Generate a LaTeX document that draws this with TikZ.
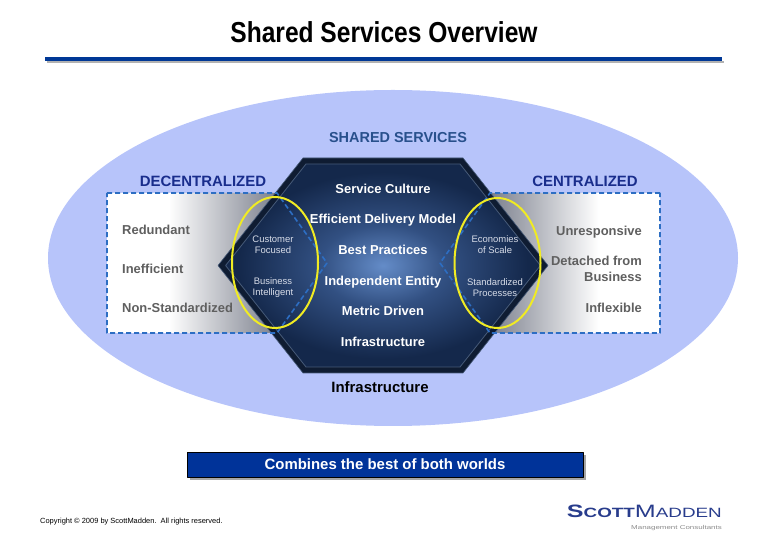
\documentclass[tikz,border=0pt]{standalone}
\usepackage{fontspec}
\setmainfont{Liberation Sans}
\newfontfamily\titlefont[FakeStretch=0.85]{Liberation Sans}
\newfontfamily\logofont[FakeStretch=1.4]{Liberation Sans}
\usetikzlibrary{shadows}
\definecolor{ovalblue}{RGB}{183,196,250}
\definecolor{ruleblue}{RGB}{0,56,150}
\definecolor{sharedblue}{RGB}{40,80,140}
\definecolor{headblue}{RGB}{25,45,140}
\definecolor{dashblue}{RGB}{45,110,195}
\definecolor{ringyellow}{RGB}{240,235,35}
\definecolor{wordgray}{RGB}{95,95,95}
\definecolor{notegray}{RGB}{215,220,232}
\definecolor{fadegray}{RGB}{105,110,125}
\definecolor{hexlight}{RGB}{100,140,200}
\definecolor{hexmid}{RGB}{50,80,130}
\definecolor{hexdark}{RGB}{20,40,75}
\definecolor{hexrim}{RGB}{15,28,50}
\definecolor{hexline}{RGB}{70,90,120}
\definecolor{bannerblue}{RGB}{0,51,153}
\definecolor{logoblue}{RGB}{40,60,140}
\pgfdeclarehorizontalshading{leftfade}{100bp}{color(0bp)=(white); color(39bp)=(white); color(67bp)=(fadegray); color(100bp)=(fadegray)}
\pgfdeclarehorizontalshading{rightfade}{100bp}{color(0bp)=(fadegray); color(33bp)=(fadegray); color(61bp)=(white); color(100bp)=(white)}
\pgfdeclareradialshading{hexglow}{\pgfpoint{0bp}{0bp}}{color(0bp)=(hexlight); color(10bp)=(hexmid); color(23bp)=(hexdark); color(50bp)=(hexdark)}
\begin{document}
\begin{tikzpicture}[>=latex,line join=bevel,
  hexitem/.style={text=white,font=\bfseries\fontsize{13}{15}\selectfont,inner sep=0pt,anchor=base},
  sidehead/.style={text=headblue,font=\bfseries\fontsize{15}{17}\selectfont,inner sep=0pt,anchor=base},
  fault/.style={text=wordgray,font=\bfseries\fontsize{13}{16}\selectfont,inner sep=0pt},
  trait/.style={text=notegray,font=\fontsize{9.5}{11}\selectfont,align=center,inner sep=0pt},
  sidebox/.style={draw=dashblue,line width=1.6bp,dash pattern=on 5bp off 3bp},
  ring/.style={draw=ringyellow,line width=2bp},
  banner/.style={fill=bannerblue,draw=black,line width=0.6bp,text=white,font=\bfseries\fontsize{15}{17}\selectfont,minimum width=396bp,minimum height=25bp,inner sep=0pt,drop shadow={shadow xshift=3bp,shadow yshift=-3bp,fill=black!35,opacity=1}},
]
\useasboundingbox (0bp,0bp) rectangle (768bp,542bp);
%%
\node (node_title) at (384bp,499bp) [anchor=base,inner sep=0pt,font=\titlefont\bfseries\fontsize{29}{32}\selectfont] {Shared Services Overview};
  \draw [line width=2bp,draw=black!30] (47bp,480bp) -- (724bp,480bp);
  \draw [line width=4.5bp,draw=ruleblue] (45bp,483bp) -- (722bp,483bp);
%
  \fill [ovalblue] (393bp,284bp) ellipse (345bp and 168bp);
  \shade [shading=leftfade] (107bp,349bp) -- (277bp,349bp) -- (327bp,279bp) -- (277bp,209bp) -- (107bp,209bp) -- cycle;
  \shade [shading=rightfade] (660bp,349bp) -- (490bp,349bp) -- (440bp,279bp) -- (490bp,209bp) -- (660bp,209bp) -- cycle;
%
  \filldraw [fill=hexrim,draw=hexline,line width=0.6bp] (303bp,384bp) -- (463bp,384bp) -- (548bp,276.5bp) -- (463bp,169bp) -- (303bp,169bp) -- (218bp,276.5bp) -- cycle;
  \shade [shading=hexglow,draw=hexline,line width=0.8bp] (306bp,378bp) -- (460bp,378bp) -- (540.4bp,276.5bp) -- (460bp,175bp) -- (306bp,175bp) -- (225.6bp,276.5bp) -- cycle;
%
  \draw [sidebox] (107bp,349bp) -- (277bp,349bp) -- (327bp,279bp) -- (277bp,209bp) -- (107bp,209bp) -- cycle;
  \draw [sidebox] (660bp,349bp) -- (490bp,349bp) -- (440bp,279bp) -- (490bp,209bp) -- (660bp,209bp) -- cycle;
  \draw [ring] (275bp,279.5bp) ellipse (43bp and 65.5bp);
  \draw [ring] (497.5bp,279bp) ellipse (43bp and 65bp);
%
\node (node_shared) at (398bp,399.8bp) [anchor=base,inner sep=0pt,text=sharedblue,font=\bfseries\fontsize{14.5}{17}\selectfont] {SHARED SERVICES};
  \node (node_decentral) at (203bp,355.6bp) [sidehead] {DECENTRALIZED};
  \node (node_central) at (585bp,355.6bp) [sidehead] {CENTRALIZED};
%
  \node (node_culture) at (383bp,348.4bp) [hexitem] {Service Culture};
  \node (node_delivery) at (383bp,318.4bp) [hexitem] {Efficient Delivery Model};
  \node (node_practices) at (383bp,287.4bp) [hexitem] {Best Practices};
  \node (node_entity) at (383bp,256.4bp) [hexitem] {Independent Entity};
  \node (node_metric) at (383bp,226.4bp) [hexitem] {Metric Driven};
  \node (node_infra) at (383bp,195.4bp) [hexitem] {Infrastructure};
  \node (node_base) at (380bp,149.6bp) [anchor=base,inner sep=0pt,font=\bfseries\fontsize{15}{17}\selectfont] {Infrastructure};
%
  \node (node_customer) at (273bp,297.5bp) [trait] {Customer\\Focused};
  \node (node_intel) at (273bp,254bp) [trait] {Business\\Intelligent};
  \node (node_scale) at (495bp,297.5bp) [trait] {Economies\\of Scale};
  \node (node_process) at (495bp,254bp) [trait] {Standardized\\Processes};
%
  \node (node_redundant) at (122bp,307.4bp) [fault,anchor=base west] {Redundant};
  \node (node_inefficient) at (122bp,268.4bp) [fault,anchor=base west] {Inefficient};
  \node (node_nonstd) at (122bp,229.9bp) [fault,anchor=base west] {Non-Standardized};
  \node (node_unresp) at (642bp,306.7bp) [fault,anchor=base east] {Unresponsive};
  \node (node_detached) at (642bp,273bp) [fault,anchor=east,align=right] {Detached from\\Business};
  \node (node_inflex) at (642bp,229.7bp) [fault,anchor=base east] {Inflexible};
%
  \node (node_banner) at (385bp,77.5bp) [banner] {Combines the best of both worlds};
  \node (node_copyright) at (40bp,19bp) [anchor=base west,inner sep=0pt,font=\fontsize{7.5}{9}\selectfont] {Copyright \textcopyright{} 2009 by ScottMadden.\ \ All rights reserved.};
  \node (node_logo) at (722bp,24.3bp) [anchor=base east,inner sep=0pt,text=logoblue,font=\logofont] {{\bfseries\fontsize{18}{18}\selectfont S\fontsize{13.5}{14}\selectfont COTT}{\fontsize{18}{18}\selectfont M\fontsize{13.5}{14}\selectfont ADDEN}};
  \node (node_tagline) at (722bp,13bp) [anchor=base east,inner sep=0pt,text=black!45,font=\logofont\fontsize{5.7}{7}\selectfont] {Management Consultants};
%
\end{tikzpicture}
\end{document}
